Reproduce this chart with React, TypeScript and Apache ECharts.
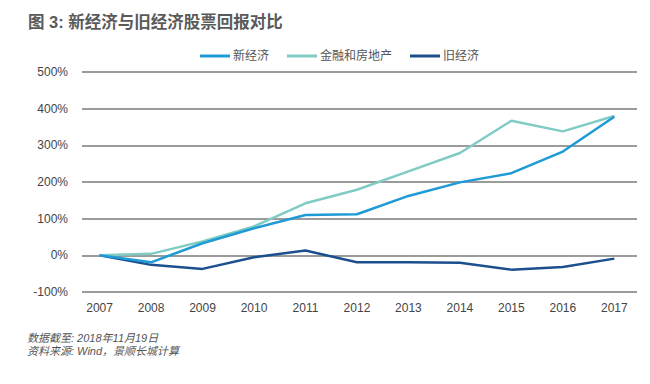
import React, { useEffect, useRef } from "react";
import * as echarts from "echarts";

const years = [2007, 2008, 2009, 2010, 2011, 2012, 2013, 2014, 2015, 2016, 2017];
const newEconomy = [0, -19, 33, 74, 110, 112, 162, 199, 224, 283, 378];
const financeRealEstate = [0, 4, 38, 79, 142, 179, 229, 279, 367, 338, 380];
const oldEconomy = [0, -26, -37, -5, 13, -19, -19, -20, -39, -32, -9];
const yTicks = [-100, 0, 100, 200, 300, 400, 500];
const seriesNames = ["新经济", "金融和房地产", "旧经济"];
const titleText = "图 3: 新经济与旧经济股票回报对比";
const noteLines = ["数据截至: 2018年11月19日", "资料来源: Wind，景顺长城计算"];

const FONT = '"Liberation Sans", "Noto Sans CJK SC", sans-serif';

export default function App() {
  const ref = useRef<HTMLDivElement>(null);
  useEffect(() => {
    if (!ref.current) return;
    const chart = echarts.init(ref.current, null, { renderer: "svg" });
    const toPairs = (vals: number[]) => years.map((y, i) => [y, vals[i]]);
    const colors = ["#1e9ad6", "#80cbc4", "#1b4f8e"];
    const datasets = [newEconomy, financeRealEstate, oldEconomy];
    chart.setOption({
      animation: false,
      backgroundColor: "#ffffff",
      textStyle: { fontFamily: FONT },
      legend: {
        left: 195,
        top: 45,
        icon: "rect",
        itemWidth: 30,
        itemHeight: 3,
        itemGap: 18,
        textStyle: { fontSize: 12, color: "#555", fontFamily: FONT, padding: [0, 0, 0, -2] },
        data: seriesNames,
      },
      grid: { left: 82, right: 13, top: 72, bottom: 92, containLabel: false },
      xAxis: {
        type: "value",
        min: 2006.658,
        max: 2017.441,
        axisLine: { show: false },
        axisTick: { show: false },
        splitLine: { show: false },
        axisLabel: {
          customValues: years,
          formatter: (v: number) => String(v),
          color: "#444",
          fontSize: 12,
          fontFamily: FONT,
          margin: 10,
        },
      },
      yAxis: {
        type: "value",
        min: -100,
        max: 500,
        interval: 100,
        axisLine: { show: false },
        axisTick: { show: false },
        splitLine: { lineStyle: { color: "#7a7a7a", width: 1.5 } },
        axisLabel: {
          customValues: yTicks,
          formatter: (v: number) => v + "%",
          color: "#444",
          fontSize: 12,
          fontFamily: FONT,
          margin: 14,
        },
      },
      series: seriesNames.map((name, i) => ({
        name,
        type: "line",
        data: toPairs(datasets[i]),
        showSymbol: false,
        symbol: "none",
        lineStyle: { color: colors[i], width: 2.5 },
        itemStyle: { color: colors[i] },
        z: i === 0 ? 4 : i === 1 ? 3 : 2,
      })),
      graphic: [
        {
          type: "text",
          left: 28,
          top: 14,
          style: {
            text: titleText,
            fontSize: 16.5,
            fontWeight: "bold",
            fill: "#5a5a5a",
            fontFamily: FONT,
          },
        },
        {
          type: "text",
          left: 27,
          top: 332,
          style: {
            text: noteLines[0],
            fontSize: 11,
            fontStyle: "italic",
            fill: "#555",
            fontFamily: FONT,
          },
        },
        {
          type: "text",
          left: 27,
          top: 345,
          style: {
            text: noteLines[1],
            fontSize: 11,
            fontStyle: "italic",
            fill: "#555",
            fontFamily: FONT,
          },
        },
      ],
    });
    return () => chart.dispose();
  }, []);
  return (
    <div
      ref={ref}
      style={{ position: "fixed", left: 0, top: 0, width: 650, height: 384, background: "#fff" }}
    />
  );
}
